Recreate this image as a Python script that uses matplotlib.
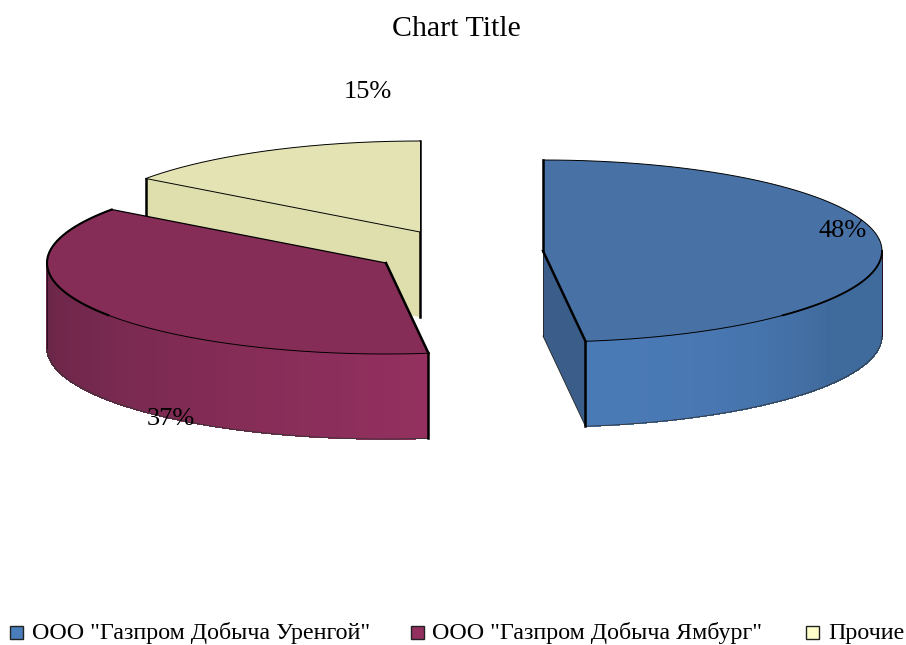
import numpy as np
from matplotlib import pyplot as plt
from matplotlib.colors import to_rgb
from matplotlib.patches import Polygon, Rectangle

plt.rcParams['font.family'] = ['Liberation Serif', 'DejaVu Serif']

labels = ['ООО "Газпром Добыча Уренгой"', 'ООО "Газпром Добыча Ямбург"', 'Прочие']
values = [48, 37, 15]
pct_labels = ['48%', '37%', '15%']
legend_colors = ['#4a7ebb', '#93305f', '#ffffcc']
top_colors = ['#4872a6', '#862d57', '#e3e3b3']
side_light = ['#4a7ab6', '#93305f', '#e3e3b3']
side_dark = ['#3f6a9c', '#682546', '#dcdcab']
cut_colors = ['#3a5d8a', '#7a2a50', '#dfdfae']
title = 'Chart Title'

RX = 339
RY = 91
DEPTH = 85
centers = [(543, 251), (386, 263), (420, 232)]
label_pos = [(843, 231), (171, 419), (368, 92)]
legend_x = [10, 411, 806]
legend_text_x = [32, 432, 828]
LEG_Y = 634


def pt(cx, cy, deg):
    a = np.radians(deg)
    return cx + RX * np.sin(a), cy - RY * np.cos(a)


def blend(c1, c2, t):
    a = np.array(to_rgb(c1))
    b = np.array(to_rgb(c2))
    return tuple(a + (b - a) * t)


fig = plt.figure(figsize=(9.06, 6.45), dpi=100)
ax = fig.add_axes([0, 0, 1, 1])
ax.set_xlim(0, 906)
ax.set_ylim(645, 0)
ax.axis('off')

angles = np.cumsum([0] + values) * 3.6

# back slices first: yellow, then purple, blue is off on its own
for i in [2, 1, 0]:
    cx, cy = centers[i]
    a0, a1 = angles[i], angles[i + 1]
    ts = np.linspace(a0, a1, 150)
    xs, ys = pt(cx, cy, ts)

    # cut faces
    if i == 0:
        px, py = pt(cx, cy, a1)
        face = [(cx, cy), (px, py), (px, py + DEPTH), (cx, cy + DEPTH)]
        ax.add_patch(Polygon(face, fc=cut_colors[i], ec='none', zorder=3))
    if i == 2:
        px, py = pt(cx, cy, a0)
        face = [(cx, cy), (px, py), (px, py + DEPTH), (cx, cy + DEPTH)]
        ax.add_patch(Polygon(face, fc=cut_colors[i], ec='none', zorder=1))

    # outer wall in strips, only the part facing us
    if i < 2:
        lo = max(a0, 90)
        hi = min(a1, 270)
        vis = np.linspace(lo, hi, 40)
        for j in range(len(vis) - 1):
            if i == 0:
                t = min(1, (hi - vis[j]) / (hi - lo) * 1.6) ** 2
            else:
                t = (vis[j] - lo) / (hi - lo)
            c = blend(side_light[i], side_dark[i], t)
            sx, sy = pt(cx, cy, vis[j:j + 2])
            strip = list(zip(sx, sy)) + list(zip(sx[::-1], sy[::-1] + DEPTH))
            ax.add_patch(Polygon(strip, fc=c, ec=c, lw=0.5, antialiased=False, zorder=3))
        bx, by = pt(cx, cy, vis)
        ax.plot(bx, by + DEPTH, color='#333333', lw=0.6, zorder=4)
        ex, ey = pt(cx, cy, lo if i == 0 else hi)
        ax.plot([ex, ex], [ey, ey + DEPTH], color='#2a1020', lw=0.7, zorder=4)

    # top face
    top = [(cx, cy)] + list(zip(xs, ys))
    ax.add_patch(Polygon(top, fc=top_colors[i], ec='none', zorder=5))
    ax.plot(xs, ys, color='black', lw=0.7, zorder=6)

# heavy edges
cx, cy = centers[0]
px, py = pt(cx, cy, angles[1])
ax.plot([cx, cx], [cy - RY, cy], color='black', lw=1.8, zorder=7)
ax.plot([cx, px], [cy, py], color='black', lw=1.8, zorder=7)
ax.plot([px, px], [py, py + DEPTH], color='black', lw=1.8, zorder=7)
ax.plot([cx, cx], [cy, cy + DEPTH], color='#222222', lw=0.6, zorder=4)
ax.plot([cx, px], [cy + DEPTH, py + DEPTH], color='#222222', lw=0.6, zorder=4)
ax.plot(*pt(cx, cy, np.linspace(90, 135, 30)), color='black', lw=1.3, zorder=7)

cx, cy = centers[1]
px, py = pt(cx, cy, angles[2])
qx, qy = pt(cx, cy, angles[1])
ax.plot([px, cx], [py, cy], color='black', lw=0.9, zorder=7)
ax.plot([cx, qx], [cy, qy], color='black', lw=1.8, zorder=7)
ax.plot([qx, qx], [qy, qy + DEPTH], color='black', lw=1.8, zorder=7)
ax.plot(*pt(cx, cy, np.linspace(235, angles[2], 40)), color='black', lw=1.5, zorder=7)

cx, cy = centers[2]
px, py = pt(cx, cy, angles[2])
ax.plot([px, cx], [py, cy], color='black', lw=0.7, zorder=6)
ax.plot([cx, cx], [cy - RY, cy + DEPTH], color='black', lw=1.8, zorder=2)
ax.plot([px, px], [py, py + DEPTH], color='black', lw=1.8, zorder=2)

ax.text(456, 29, title, ha='center', va='center', fontsize=21.5, zorder=9)
for pos, s in zip(label_pos, pct_labels):
    ax.text(pos[0], pos[1], s, ha='center', va='center', fontsize=19, zorder=9)

for x, tx, c, s in zip(legend_x, legend_text_x, legend_colors, labels):
    ax.add_patch(Rectangle((x, LEG_Y - 8), 13, 13, fc=c, ec='#222222', lw=1.0, zorder=9))
    ax.text(tx, LEG_Y - 1, s, ha='left', va='center', fontsize=17.3, zorder=9)

fig.savefig('out.png', dpi=100)
